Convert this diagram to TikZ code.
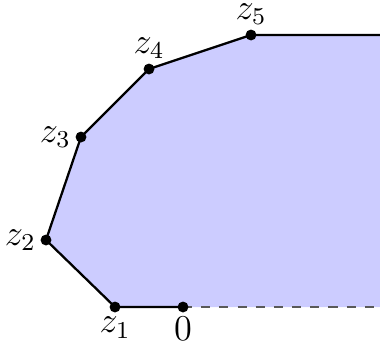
\documentclass[tikz,border=0pt]{standalone}
\usepackage{amsmath,amssymb}
\usepackage{xcolor}
\usetikzlibrary{positioning}
\definecolor{region}{RGB}{204,204,255}
\tikzset{
  pt/.style={circle, fill=black, inner sep=0pt, minimum size=3.6pt},
  edge/.style={line width=0.75pt},
  every label/.style={inner sep=0.3pt, label distance=0.9pt, font=\large}
}

\begin{document}
\begin{tikzpicture}[x=0.33pt, y=-0.33pt]
\useasboundingbox (0,0) rectangle (380,342);
% vertices of the boundary
\coordinate (o) at (183,307);
\coordinate (z1) at (115,307);
\coordinate (z2) at (46,240);
\coordinate (z3) at (81,137);
\coordinate (z4) at (149,69);
\coordinate (z5) at (251,35);
\coordinate (bot) at (380,307);
\coordinate (top) at (380,35);

% shaded region
\fill[region] (bot) -- (o) -- (z1) -- (z2) -- (z3) -- (z4) -- (z5) -- (top) -- cycle;

% boundary
\draw[edge] (o) -- (z1) -- (z2) -- (z3) -- (z4) -- (z5) -- (top);
\draw[edge, dashed, gray!70!black] (o) -- (bot);

% points and labels
\node[pt, label={below:$0$}] (p0) at (o) {};
\node[pt, label={below:$z_1$}] (p1) at (z1) {};
\node[pt, label={left:$z_2$}] (p2) at (z2) {};
\node[pt, label={left:$z_3$}] (p3) at (z3) {};
\node[pt, label={above:$z_4$}] (p4) at (z4) {};
\node[pt, label={above:$z_5$}] (p5) at (z5) {};
\end{tikzpicture}
\end{document}
